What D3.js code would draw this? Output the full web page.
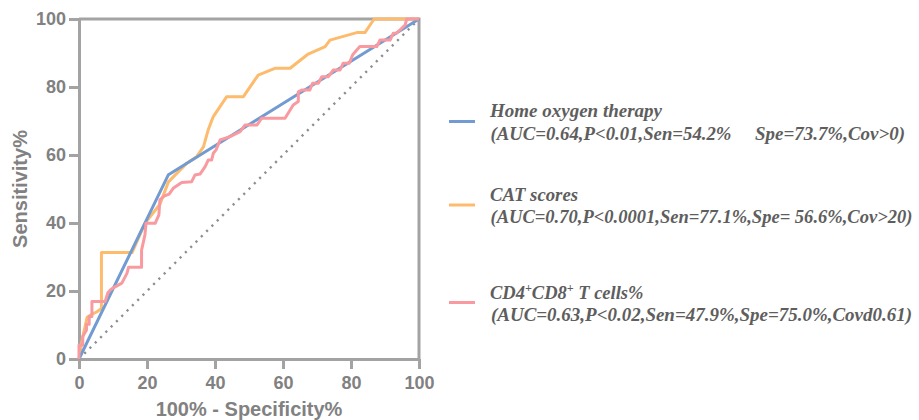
<!DOCTYPE html>
<html>
<head>
<meta charset="utf-8">
<script src="https://cdn.jsdelivr.net/npm/d3@7"></script>
<style>
  html, body { margin: 0; padding: 0; background: #fff; }
  svg { display: block; }
</style>
</head>
<body>
<svg id="chart" width="919" height="420"></svg>
<script>
// ROC curves: [100% - specificity, sensitivity] in percent
const homeOxygen = [[0, 0], [26.3, 54.2], [100, 100]];

const catScores = [
  [0, 0], [1.0, 6.0], [2.4, 12.3], [3.3, 12.9], [5.3, 13.9], [6.6, 14.9],
  [6.6, 31.3], [15.6, 31.3], [19.4, 39.9], [23.8, 45.5], [26.3, 52.1],
  [31.7, 57.6], [34.6, 59.5], [36.6, 62.4], [38.0, 67.4], [39.5, 71.3],
  [43.4, 77.1], [48.3, 77.1], [52.7, 83.5], [57.6, 85.5], [62.1, 85.5],
  [67.4, 89.7], [72.4, 91.9], [73.8, 93.8], [81.7, 96.0], [84.1, 96.0],
  [86.8, 100], [100, 100]
];

const cd4cd8 = [
  [0, 0], [0, 4.1], [1.1, 4.1], [1.1, 6.6], [2.2, 8.5], [2.2, 10.2],
  [3.0, 10.2], [3.0, 12.5], [3.8, 12.5], [3.8, 16.9], [7.7, 16.9],
  [8.5, 19.5], [9.2, 20.3], [10.2, 21.0], [12.6, 22.3], [14.1, 25.2],
  [14.6, 27.0], [18.4, 27.0], [18.4, 32.0], [19.4, 36.5], [19.7, 39.9],
  [22.4, 39.9], [23.5, 42.4], [23.8, 46.8], [25.0, 47.9], [26.5, 48.5],
  [27.7, 50.2], [30.2, 51.9], [33.1, 52.1], [34.1, 54.1], [35.6, 54.4],
  [37.1, 56.6], [38.0, 58.5], [39.0, 58.5], [39.5, 60.5], [40.3, 61.5],
  [41.5, 64.4], [44.4, 65.4], [47.4, 66.9], [48.8, 68.8], [52.3, 68.8],
  [53.7, 70.8], [60.6, 70.8], [63.0, 74.7], [64.5, 75.7], [64.5, 78.6],
  [65.5, 79.1], [67.9, 79.1], [68.7, 81.1], [70.4, 81.1], [71.4, 83.0],
  [73.3, 83.0], [74.8, 85.0], [76.8, 85.0], [77.7, 87.0], [79.5, 87.0],
  [80.5, 89.5], [82.6, 91.9], [87.6, 91.9], [88.5, 93.8], [91.5, 93.8],
  [92.4, 95.8], [93.4, 95.8], [95.9, 98.2], [96.4, 100], [100, 100]
];

const reference = [[0, 0], [100, 100]];

const tickValues = [0, 20, 40, 60, 80, 100];
const xTitle = "100% - Specificity%";
const yTitle = "Sensitivity%";

const legendTitles = ["Home oxygen therapy", "CAT scores", "CD4+CD8+ T cells%"];
const legendStats = [
  ["(AUC=0.64,P<0.01,Sen=54.2%", "Spe=73.7%,Cov>0)"],
  ["(AUC=0.70,P<0.0001,Sen=77.1%,Spe= 56.6%,Cov>20)"],
  ["(AUC=0.63,P<0.02,Sen=47.9%,Spe=75.0%,Covd0.61)"]
];

const colors = { home: "#729bd2", cat: "#fdbb6e", cd: "#f99aa0" };
const axisColor = "#a3a3a4";
const labelColor = "#818181";
const legendText = "#5e5e5e";

const svg = d3.select("#chart");

const x = d3.scaleLinear().domain([0, 100]).range([79, 419]);
const y = d3.scaleLinear().domain([0, 100]).range([359, 19]);

// frame: top and right edges
svg.append("path")
  .attr("d", `M${x(0)},${y(100)}H${x(100)}V${y(0)}`)
  .attr("fill", "none")
  .attr("stroke", axisColor)
  .attr("stroke-width", 3);

const sansBold = g => g.selectAll("text")
  .attr("font-family", "'Liberation Sans', Arial, sans-serif")
  .attr("font-weight", "bold")
  .attr("font-size", 18)
  .attr("fill", labelColor);

const styleAxis = g => {
  g.select(".domain").attr("stroke", axisColor).attr("stroke-width", 3);
  g.selectAll(".tick line").attr("stroke", axisColor).attr("stroke-width", 3);
  sansBold(g);
};

svg.append("g")
  .attr("transform", `translate(0,${y(0)})`)
  .call(d3.axisBottom(x).tickValues(tickValues).tickSize(10).tickSizeOuter(0).tickPadding(7))
  .call(styleAxis);

svg.append("g")
  .attr("transform", `translate(${x(0)},0)`)
  .call(d3.axisLeft(y).tickValues(tickValues).tickSize(10).tickSizeOuter(0).tickPadding(3))
  .call(styleAxis);

// axis titles
svg.append("text")
  .attr("x", (x(0) + x(100)) / 2)
  .attr("y", 416)
  .attr("text-anchor", "middle")
  .attr("font-family", "'Liberation Sans', Arial, sans-serif")
  .attr("font-weight", "bold")
  .attr("font-size", 20)
  .attr("fill", labelColor)
  .text(xTitle);

svg.append("text")
  .attr("transform", `translate(27,${(y(0) + y(100)) / 2}) rotate(-90)`)
  .attr("text-anchor", "middle")
  .attr("font-family", "'Liberation Sans', Arial, sans-serif")
  .attr("font-weight", "bold")
  .attr("font-size", 20)
  .attr("fill", labelColor)
  .text(yTitle);

const line = d3.line().x(d => x(d[0])).y(d => y(d[1]));

// chance diagonal
svg.append("path")
  .attr("d", line(reference))
  .attr("fill", "none")
  .attr("stroke", "#8e8e8e")
  .attr("stroke-width", 2.4)
  .attr("stroke-dasharray", "2.2 5.3");

const curve = (data, color) => svg.append("path")
  .attr("d", line(data))
  .attr("fill", "none")
  .attr("stroke", color)
  .attr("stroke-width", 3)
  .attr("stroke-linejoin", "round");

curve(catScores, colors.cat);
curve(homeOxygen, colors.home);
curve(cd4cd8, colors.cd);

// legend
const legendRows = [
  { color: colors.home, lineY: 121.5, base1: 117, base2: 140 },
  { color: colors.cat, lineY: 205, base1: 200.5, base2: 223 },
  { color: colors.cd, lineY: 302.5, base1: 299, base2: 320.5 }
];

const serif = t => t
  .attr("font-family", "'Liberation Serif', 'Times New Roman', serif")
  .attr("font-weight", "bold")
  .attr("font-style", "italic")
  .attr("font-size", 18.5)
  .attr("fill", legendText);

legendRows.forEach(r => {
  svg.append("line")
    .attr("x1", 449).attr("x2", 475)
    .attr("y1", r.lineY).attr("y2", r.lineY)
    .attr("stroke", r.color)
    .attr("stroke-width", 3);
});

// titles
svg.append("text").attr("x", 490).attr("y", legendRows[0].base1)
  .call(serif).attr("textLength", 172).attr("lengthAdjust", "spacingAndGlyphs")
  .text(legendTitles[0]);
svg.append("text").attr("x", 490).attr("y", legendRows[1].base1)
  .call(serif).attr("textLength", 88).attr("lengthAdjust", "spacingAndGlyphs")
  .text(legendTitles[1]);

const cdTitle = svg.append("text").attr("x", 490).attr("y", legendRows[2].base1).call(serif);
cdTitle.append("tspan").text("CD4");
cdTitle.append("tspan").attr("dy", -7).attr("font-size", 12).text("+");
cdTitle.append("tspan").attr("dy", 7).text("CD8");
cdTitle.append("tspan").attr("dy", -7).attr("font-size", 12).text("+");
cdTitle.append("tspan").attr("dy", 7).text(" T cells%");

// statistics lines
svg.append("text").attr("x", 490.5).attr("y", legendRows[0].base2)
  .call(serif).attr("textLength", 241).attr("lengthAdjust", "spacingAndGlyphs")
  .text(legendStats[0][0]);
svg.append("text").attr("x", 755).attr("y", legendRows[0].base2)
  .call(serif).attr("textLength", 150).attr("lengthAdjust", "spacingAndGlyphs")
  .text(legendStats[0][1]);
svg.append("text").attr("x", 490.5).attr("y", legendRows[1].base2)
  .call(serif).attr("textLength", 422).attr("lengthAdjust", "spacingAndGlyphs")
  .text(legendStats[1][0]);
svg.append("text").attr("x", 491).attr("y", legendRows[2].base2)
  .call(serif).attr("textLength", 421).attr("lengthAdjust", "spacingAndGlyphs")
  .text(legendStats[2][0]);
</script>
</body>
</html>
